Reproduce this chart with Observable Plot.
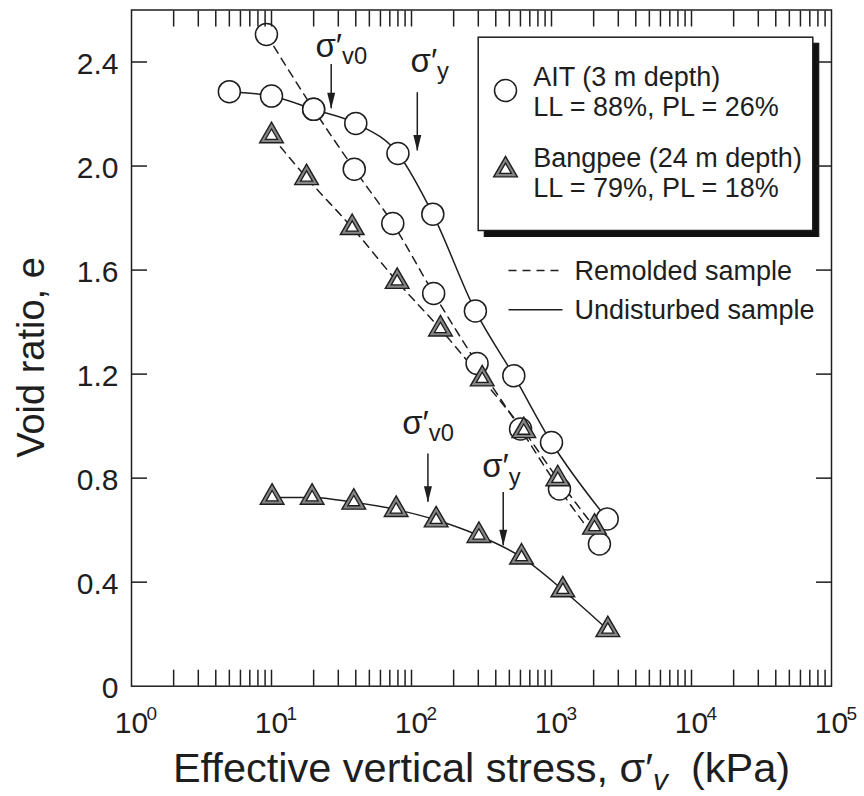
<!DOCTYPE html>
<html>
<head>
<meta charset="utf-8">
<script src="https://cdn.jsdelivr.net/npm/d3@7"></script>
<script src="https://cdn.jsdelivr.net/npm/@observablehq/plot@0.6"></script>
<style>
  body { margin: 0; background: #fff; }
  svg { display: block; }
</style>
</head>
<body>
<div id="chart"></div>
<script>
// ---------- data ----------
// AIT clay (3 m depth)
const aitUndStress = [5, 10, 20, 40, 80, 142, 286, 538, 1000, 2500];
const aitUndE      = [2.286, 2.269, 2.218, 2.164, 2.048, 1.815, 1.443, 1.194, 0.937, 0.643];
const aitRemStress = [9.2, 20, 39, 73.5, 144, 294, 601, 1140, 2200];
const aitRemE      = [2.506, 2.218, 1.988, 1.779, 1.510, 1.241, 0.989, 0.758, 0.547];
// Bangpee clay (24 m depth)
const bpRemStress  = [10, 17.8, 37.7, 79, 161, 320, 634, 1109, 2028];
const bpRemE       = [2.116, 1.955, 1.763, 1.556, 1.373, 1.181, 0.982, 0.797, 0.611];
const bpUndStress  = [10.1, 19.5, 38.7, 77.7, 150, 303, 611, 1205, 2525];
const bpUndE       = [0.726, 0.726, 0.707, 0.679, 0.639, 0.579, 0.496, 0.370, 0.217];

// annotation arrows: stress at arrow, e at arrow top, e at arrow tip
const arrowLabels = ["σ′|v0", "σ′|y", "σ′|v0", "σ′|y"];
const arrowStress = [26.7, 110, 131, 452];
const arrowTopE   = [2.39, 2.282, 0.893, 0.745];
const arrowTipE   = [2.22, 2.058, 0.707, 0.540];
const labelStress = [20.6, 98.4, 85.8, 320];
const labelE      = [2.461, 2.404, 1.011, 0.844];

// axes
const xMajor = [1, 10, 100, 1000, 10000, 100000];
const xExponents = ["0", "1", "2", "3", "4", "5"];
const yTicks = [0, 0.4, 0.8, 1.2, 1.6, 2.0, 2.4];
const yLabels = ["0", "0.4", "0.8", "1.2", "1.6", "2.0", "2.4"];

const legendLines1 = "AIT (3 m depth)\nLL = 88%, PL = 26%";
const legendLines2 = "Bangpee (24 m depth)\nLL = 79%, PL = 18%";
const legendDash = "Remolded sample";
const legendSolid = "Undisturbed sample";
const xTitle = "Effective vertical stress, σ′|v|  (kPa)";
const yTitle = "Void ratio, e";

// ---------- helpers ----------
const ink = "#1e1e1e";
const font = "'Liberation Sans', Arial, Helvetica, sans-serif";
const rows = (xs, ys) => xs.map((x, i) => ({x, e: ys[i]}));
const aitUnd = rows(aitUndStress, aitUndE);
const aitRem = rows(aitRemStress, aitRemE);
const bpRem = rows(bpRemStress, bpRemE);
const bpUnd = rows(bpUndStress, bpUndE);
const arrows = arrowStress.map((x, i) => ({x, top: arrowTopE[i], tip: arrowTipE[i], lx: labelStress[i], ly: labelE[i], label: arrowLabels[i]}));

const minorTicks = [];
for (let p = 0; p < 5; p++) for (let k = 1; k <= 9; k++) { const v = k * 10 ** p; if (v > 1) minorTicks.push(v); }
const yTickMarks = yTicks.filter(d => d > 0);

const circ = {r: 11, fill: "white", stroke: ink, strokeWidth: 1.5};
const triOuter = {symbol: "triangle", r: 8.8, fill: "#858585", stroke: ink, strokeWidth: 1.4};
const triInner = {symbol: "triangle", r: 4.4, fill: "white", stroke: ink, strokeWidth: 1.3};
const arrowHead = {draw(ctx) { ctx.moveTo(0, 0); ctx.lineTo(-4, -16); ctx.lineTo(4, -16); ctx.closePath(); }};
const hLine = {draw(ctx) { ctx.moveTo(-27, 0); ctx.lineTo(27, 0); }};
const dash = "8,6";
const curve = "monotone-x";

const anchorTR = {x: null, y: null, frameAnchor: "top-right"};
const box = {insetLeft: 346.7, insetTop: 27.2, insetRight: 18.7, insetBottom: 455.7};
const legendText = {...anchorTR, text: d => d, textAnchor: "start", lineAnchor: "middle", fontSize: 27, lineHeight: 1.11, fill: ink};

const plot = Plot.plot({
  width: 864,
  height: 796,
  marginLeft: 131,
  marginRight: 33,
  marginTop: 9.5,
  marginBottom: 110.3,
  style: {fontFamily: font, color: ink, background: "white", overflow: "visible"},
  x: {type: "log", domain: [1, 100000], axis: null},
  y: {domain: [0, 2.6], axis: null},
  marks: [
    // curves
    Plot.line(aitUnd, {x: "x", y: "e", curve, stroke: ink, strokeWidth: 1.5}),
    Plot.line(bpUnd, {x: "x", y: "e", curve, stroke: ink, strokeWidth: 1.5}),
    Plot.line(aitRem, {x: "x", y: "e", curve, stroke: ink, strokeWidth: 1.5, strokeDasharray: dash}),
    Plot.line(bpRem, {x: "x", y: "e", curve, stroke: ink, strokeWidth: 1.5, strokeDasharray: dash}),
    // markers
    Plot.dot(aitUnd, {x: "x", y: "e", ...circ}),
    Plot.dot(aitRem, {x: "x", y: "e", ...circ}),
    Plot.dot(bpRem, {x: "x", y: "e", ...triOuter}),
    Plot.dot(bpRem, {x: "x", y: "e", ...triInner}),
    Plot.dot(bpUnd, {x: "x", y: "e", ...triOuter}),
    Plot.dot(bpUnd, {x: "x", y: "e", ...triInner}),
    // annotation arrows
    Plot.ruleX(arrows, {x: "x", y1: "top", y2: "tip", stroke: ink, strokeWidth: 1.5}),
    Plot.dot(arrows, {x: "x", y: "tip", symbol: arrowHead, fill: ink, stroke: "none"}),
    Plot.text(arrows, {x: "lx", y: "ly", text: "label", textAnchor: "start", lineAnchor: "middle", fontSize: 33, fill: ink}),
    // legend box with shadow
    Plot.frame({...box, dx: 6, dy: 6, fill: "#111", stroke: "#111"}),
    Plot.frame({...box, fill: "white", stroke: ink, strokeWidth: 1.5}),
    Plot.dot([0], {...anchorTR, dx: -326, dy: 80.5, ...circ}),
    Plot.dot([0], {...anchorTR, dx: -326, dy: 160, ...triOuter}),
    Plot.dot([0], {...anchorTR, dx: -326, dy: 160, ...triInner}),
    Plot.text([legendLines1], {...legendText, dx: -298.3, dy: 81}),
    Plot.text([legendLines2], {...legendText, dx: -298.3, dy: 162.5}),
    Plot.dot([0], {...anchorTR, dx: -296, dy: 260.5, symbol: hLine, fill: "none", stroke: ink, strokeWidth: 1.5, strokeDasharray: dash}),
    Plot.dot([0], {...anchorTR, dx: -296, dy: 299.8, symbol: hLine, fill: "none", stroke: ink, strokeWidth: 1.5}),
    Plot.text([legendDash], {...legendText, dx: -257, dy: 260.5}),
    Plot.text([legendSolid], {...legendText, dx: -257, dy: 299.8}),
    // inward ticks on all four sides
    Plot.axisX(minorTicks, {anchor: "bottom", tickSize: -16, tickFormat: () => "", label: null, stroke: ink, strokeWidth: 1.5}),
    Plot.axisX(minorTicks, {anchor: "top", tickSize: -16, tickFormat: () => "", label: null, stroke: ink, strokeWidth: 1.5}),
    Plot.axisY(yTickMarks, {anchor: "left", tickSize: -16, tickFormat: () => "", label: null, stroke: ink, strokeWidth: 1.5}),
    Plot.axisY(yTickMarks, {anchor: "right", tickSize: -16, tickFormat: () => "", label: null, stroke: ink, strokeWidth: 1.5}),
    Plot.frame({stroke: ink, strokeWidth: 1.5}),
    // tick labels
    Plot.text(yTicks, {y: d => d, text: (d, i) => yLabels[i], frameAnchor: "left", textAnchor: "end", lineAnchor: "middle", dx: -13, dy: 2, fontSize: 30, fill: ink}),
    Plot.text(xMajor, {x: d => d, text: () => "10", frameAnchor: "bottom", textAnchor: "middle", lineAnchor: "middle", dy: 37, fontSize: 30, fill: ink}),
    Plot.text(xMajor, {x: d => d, text: (d, i) => xExponents[i], frameAnchor: "bottom", textAnchor: "start", lineAnchor: "middle", dx: 15, dy: 28, fontSize: 19, fill: ink}),
    // axis titles
    Plot.text([xTitle], {x: null, y: null, text: d => d, frameAnchor: "bottom", textAnchor: "middle", lineAnchor: "middle", dy: 83, fontSize: 41.5, fill: ink}),
    Plot.text([yTitle], {x: null, y: null, text: d => d, frameAnchor: "left", textAnchor: "middle", lineAnchor: "middle", dx: -100, dy: 9.4, rotate: -90, fontSize: 38, fill: ink})
  ]
});

document.getElementById("chart").appendChild(plot);

// rich text: parts separated by "|" alternate normal / subscript
d3.select(plot).selectAll("text").each(function() {
  const s = this.textContent;
  if (!s.includes("|")) return;
  const base = parseFloat(getComputedStyle(this).fontSize) || 32;
  const subSize = base * 0.72;
  const drop = base * (base > 35 ? 0.17 : 0.22);
  const italicSub = base > 35;
  const parts = s.split("|");
  this.textContent = "";
  parts.forEach((p, i) => {
    const t = d3.select(this).append("tspan").text(p).style("white-space", "pre");
    if (i % 2 === 1) {
      t.attr("dy", drop).attr("font-size", subSize);
      if (italicSub) t.attr("font-style", "italic");
    } else if (i > 0) {
      t.attr("dy", -drop);
    }
  });
});
</script>
</body>
</html>
